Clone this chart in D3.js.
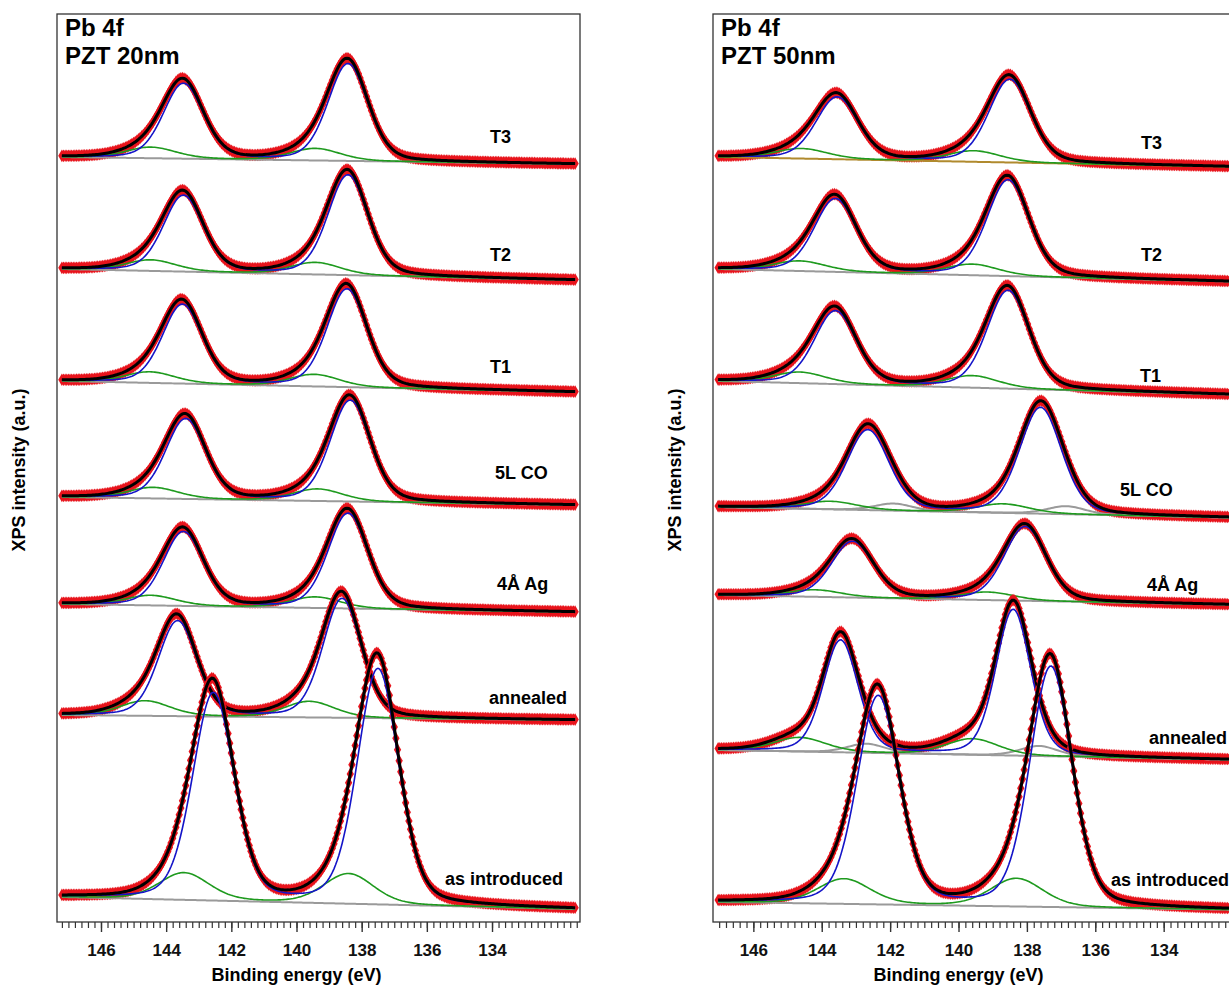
<!DOCTYPE html>
<html>
<head>
<meta charset="utf-8">
<script src="https://cdn.jsdelivr.net/npm/d3@7"></script>
<style>
	body { margin: 0; background: #fff; }
	svg { display: block; font-family: Arial, "Liberation Sans", sans-serif; }
</style>
</head>
<body>
<div id="chart"></div>
<script>
// Spectra, top to bottom
const spectrumLabels = ["T3", "T2", "T1", "5L CO", "4Å Ag", "annealed", "as introduced"];
const majorTicks = [146, 144, 142, 140, 138, 136, 134];
const spinOrbit = 5.05; // Pb 4f5/2 - 4f7/2 (eV)

// PZT 20nm fit parameters (intensity in a.u., positions in eV)
const pzt20BgHigh = [765, 653, 541, 425, 318, 207, 25];
const pzt20BgLow = [758, 642, 530, 417, 310, 202, 13];
const pzt20Pos = [138.42, 138.42, 138.45, 138.35, 138.42, 138.6, 137.5];
const pzt20H7 = [97, 100, 98, 101, 95, 119, 235];
const pzt20H5 = [75, 76, 79, 80, 74, 95, 207];
const pzt20Fwhm = [1.45, 1.45, 1.45, 1.45, 1.45, 1.4, 1.5];
const pzt20G7 = [12, 12, 12, 12, 11, 16, 30];
const pzt20G5 = [11, 11, 11, 11, 10, 15, 27];
const pzt20GShift = [1.0, 1.0, 1.0, 1.0, 1.0, 1.0, 0.9];

// PZT 50nm fit parameters
const pzt50BgHigh = [765, 653, 541, 415, 327, 172, 20];
const pzt50BgLow = [755, 640, 527, 404, 317, 162, 12];
const pzt50Pos = [138.5, 138.55, 138.55, 137.6, 138.05, 138.4, 137.3];
const pzt50H7 = [83, 96, 98, 106, 74, 146, 240];
const pzt50H5 = [62, 73, 73, 80, 56, 112, 208];
const pzt50Fwhm = [1.45, 1.45, 1.45, 1.45, 1.45, 1.2, 1.45];
const pzt50G7 = [11, 11, 12, 9, 8, 16, 28];
const pzt50G5 = [10, 10, 11, 8, 7, 14, 25];
const pzt50GShift = [1.05, 1.05, 1.05, 1.1, 1.1, 1.2, 1.0];
const pzt50K7 = [0, 0, 0, 8, 0, 10, 0];
const pzt50K5 = [0, 0, 0, 7, 0, 9, 0];

const width = 1229;
const height = 985;

const svg = d3.select("#chart").append("svg")
	.attr("width", width)
	.attr("height", height)
	.attr("viewBox", [0, 0, width, height]);

// Pseudo-Voigt line shape
function peak(e, center, h, fwhm) {
	const t = (e - center) / (fwhm / 2);
	return h * (0.25 / (1 + t * t) + 0.75 * Math.exp(-Math.LN2 * t * t));
}

function drawPanel(p) {
	const x = d3.scaleLinear().domain(p.domain).range([p.left, p.right]);
	const y = d3.scaleLinear().domain([0, 908]).range([922, 14]);
	const top = 14, bottom = 922;

	const panel = svg.append("g");

	panel.append("clipPath")
		.attr("id", p.id + "-clip")
		.append("rect")
		.attr("x", p.left)
		.attr("y", top)
		.attr("width", p.right - p.left)
		.attr("height", bottom - top);

	const plot = panel.append("g").attr("clip-path", `url(#${p.id}-clip)`);

	const energies = d3.range(p.start, p.end - 1e-9, -0.05);
	const line = d3.line().x(d => x(d[0])).y(d => y(d[1]));

	p.rows.forEach((r, i) => {
		const bg = e => r.bgHigh + (r.bgLow - r.bgHigh) * (p.start - e) / (p.start - p.end);
		const blue = e => peak(e, r.pos, r.h7, r.w) + peak(e, r.pos + spinOrbit, r.h5, r.w);
		const green = e => peak(e, r.pos + r.gs, r.g7, 1.8) + peak(e, r.pos + spinOrbit + r.gs, r.g5, 1.8);
		const grey = e => peak(e, r.pos - 0.75, r.k7, 1.3) + peak(e, r.pos + spinOrbit - 0.75, r.k5, 1.3);
		const total = e => bg(e) + blue(e) + green(e) + grey(e);

		// measured points
		plot.append("g")
			.attr("fill", "#e8141c")
			.selectAll("path")
			.data(energies)
			.join("path")
			.attr("transform", e => `translate(${x(e)},${y(total(e))})`)
			.attr("d", d3.symbol().type(d3.symbolDiamond).size(46));

		// background
		plot.append("path")
			.attr("fill", "none")
			.attr("stroke", r.bgColor)
			.attr("stroke-width", 2)
			.attr("d", line(energies.map(e => [e, bg(e)])));

		if (r.k7 > 0) {
			plot.append("path")
				.attr("fill", "none")
				.attr("stroke", "#9a9a9a")
				.attr("stroke-width", 2)
				.attr("d", line(energies.map(e => [e, bg(e) + grey(e)])));
		}

		plot.append("path")
			.attr("fill", "none")
			.attr("stroke", "#1e9a1e")
			.attr("stroke-width", 1.6)
			.attr("d", line(energies.map(e => [e, bg(e) + green(e)])));

		plot.append("path")
			.attr("fill", "none")
			.attr("stroke", "#1414c8")
			.attr("stroke-width", 1.6)
			.attr("d", line(energies.map(e => [e, bg(e) + blue(e)])));

		plot.append("path")
			.attr("fill", "none")
			.attr("stroke", "#000")
			.attr("stroke-width", 3)
			.attr("d", line(energies.map(e => [e, total(e)])));

		panel.append("text")
			.attr("x", p.labelX[i])
			.attr("y", p.labelY[i])
			.style("font-size", "18px")
			.style("font-weight", "bold")
			.text(spectrumLabels[i]);
	});

	// frame
	panel.append("rect")
		.attr("x", p.left)
		.attr("y", top)
		.attr("width", p.right - p.left)
		.attr("height", bottom - top)
		.attr("fill", "none")
		.attr("stroke", "#333")
		.attr("stroke-width", 1.3);

	// minor ticks every 0.2 eV
	const minor = d3.range(0, 80).map(k => +(147.2 - k * 0.2).toFixed(1))
		.filter(v => v <= p.domain[0] && v >= p.domain[1]);
	panel.append("g")
		.attr("transform", `translate(0,${bottom})`)
		.call(d3.axisBottom(x).tickValues(minor).tickSize(6).tickFormat(""))
		.call(g => g.select(".domain").remove())
		.call(g => g.selectAll("line").attr("stroke", "#333").attr("stroke-width", 1.2));

	panel.append("g")
		.attr("transform", `translate(0,${bottom})`)
		.call(d3.axisBottom(x).tickValues(majorTicks).tickSize(10).tickPadding(12).tickFormat(d3.format("d")))
		.call(g => g.select(".domain").remove())
		.call(g => g.selectAll("line").attr("stroke", "#333").attr("stroke-width", 1.4))
		.call(g => g.selectAll("text")
			.attr("fill", "#111")
			.style("font-size", "17px")
			.style("font-weight", "bold")
			.style("font-family", "Arial, 'Liberation Sans', sans-serif"));

	panel.append("text")
		.attr("x", x(140))
		.attr("y", 981)
		.attr("text-anchor", "middle")
		.style("font-size", "18px")
		.style("font-weight", "bold")
		.text("Binding energy (eV)");

	panel.append("text")
		.attr("transform", `translate(${p.left - 32},${470}) rotate(-90)`)
		.attr("text-anchor", "middle")
		.style("font-size", "18px")
		.style("font-weight", "bold")
		.text("XPS intensity (a.u.)");

	panel.append("text")
		.attr("x", p.left + 8)
		.attr("y", 36)
		.style("font-size", "24px")
		.style("font-weight", "bold")
		.text("Pb 4f");
	panel.append("text")
		.attr("x", p.left + 8)
		.attr("y", 64)
		.style("font-size", "24px")
		.style("font-weight", "bold")
		.text(p.title);
}

function rowsFrom(bgHigh, bgLow, pos, h7, h5, w, g7, g5, gs, k7, k5, bgColors) {
	return spectrumLabels.map((_, i) => ({
		bgHigh: bgHigh[i], bgLow: bgLow[i], pos: pos[i], h7: h7[i], h5: h5[i], w: w[i],
		g7: g7[i], g5: g5[i], gs: gs[i], k7: k7 ? k7[i] : 0, k5: k5 ? k5[i] : 0,
		bgColor: bgColors[i]
	}));
}

drawPanel({
	id: "pzt20",
	title: "PZT 20nm",
	domain: [147.35, 131.3],
	left: 57,
	right: 580,
	start: 147.2,
	end: 131.45,
	rows: rowsFrom(pzt20BgHigh, pzt20BgLow, pzt20Pos, pzt20H7, pzt20H5, pzt20Fwhm,
		pzt20G7, pzt20G5, pzt20GShift, null, null, spectrumLabels.map(() => "#9a9a9a")),
	labelX: [490, 490, 490, 495, 497, 489, 445],
	labelY: [143, 261, 373, 479, 590, 704, 885]
});

drawPanel({
	id: "pzt50",
	title: "PZT 50nm",
	domain: [147.18, 131.3],
	left: 713,
	right: 1256,
	start: 147.03,
	end: 131.45,
	rows: rowsFrom(pzt50BgHigh, pzt50BgLow, pzt50Pos, pzt50H7, pzt50H5, pzt50Fwhm,
		pzt50G7, pzt50G5, pzt50GShift, pzt50K7, pzt50K5,
		["#b08a2e", "#9a9a9a", "#9a9a9a", "#9a9a9a", "#9a9a9a", "#9a9a9a", "#9a9a9a"]),
	labelX: [1141, 1141, 1140, 1120, 1147, 1149, 1111],
	labelY: [149, 261, 382, 496, 591, 744, 886]
});
</script>
</body>
</html>
